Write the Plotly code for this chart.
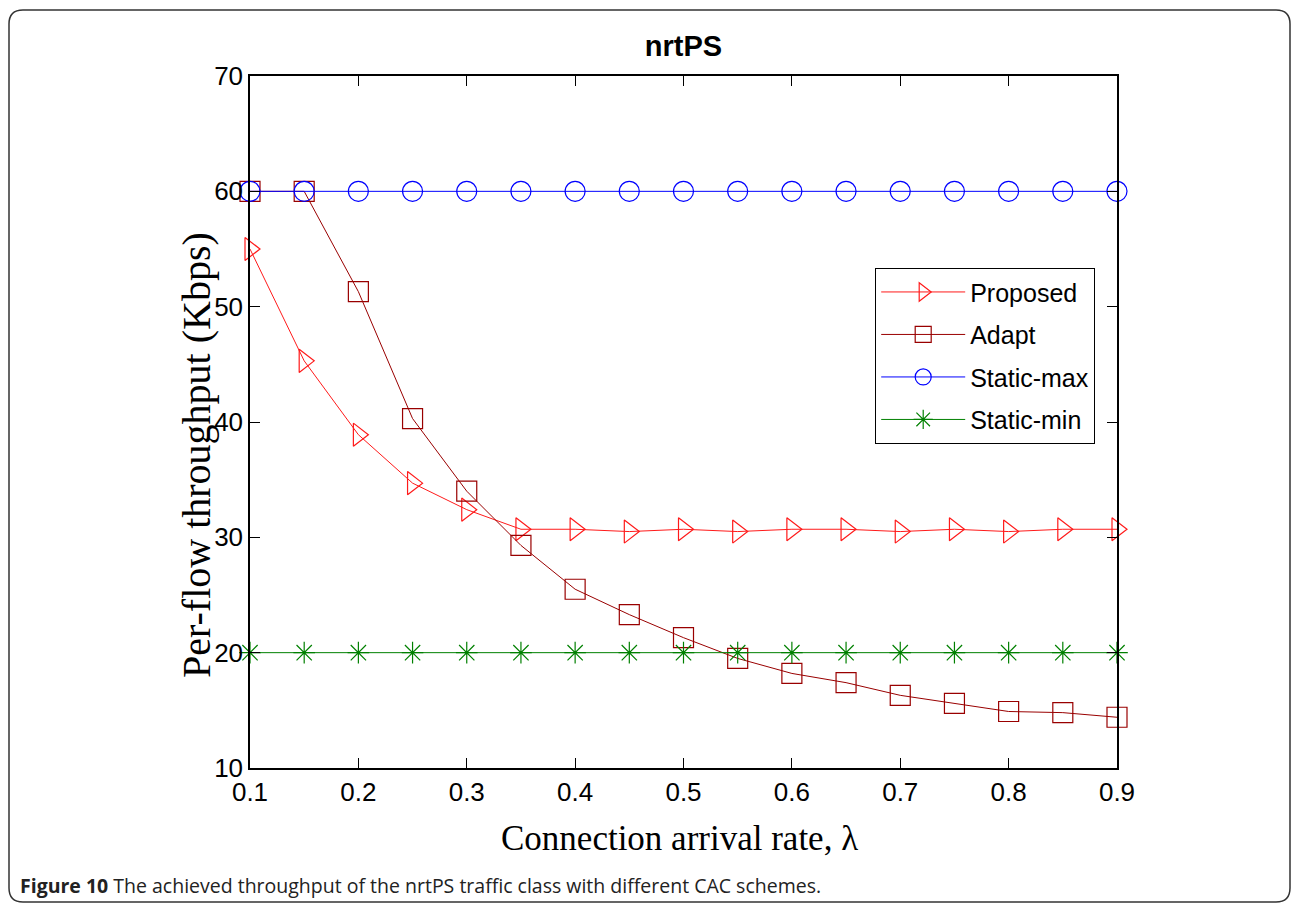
import plotly.graph_objects as go

# ---- data ----
arrival_rate = [0.1, 0.15, 0.2, 0.25, 0.3, 0.35, 0.4, 0.45, 0.5, 0.55, 0.6, 0.65, 0.7, 0.75, 0.8, 0.85, 0.9]
proposed = [55.0, 45.3, 38.9, 34.7, 32.4, 30.7, 30.7, 30.5, 30.7, 30.5, 30.7, 30.7, 30.5, 30.7, 30.5, 30.7, 30.7]
adapt = [60.0, 60.0, 51.3, 40.3, 34.0, 29.3, 25.5, 23.3, 21.3, 19.5, 18.2, 17.4, 16.3, 15.6, 14.9, 14.8, 14.4]
static_max = [60.0] * 17
static_min = [20.0] * 17

x_ticks = [0.1, 0.2, 0.3, 0.4, 0.5, 0.6, 0.7, 0.8, 0.9]
y_ticks = [10, 20, 30, 40, 50, 60, 70]

# ---- layout geometry (pixels) ----
W, H = 1292, 904
L, R, T, B = 250, 1117, 76, 768

def px(x):
    return (x - L) / (R - L)

def py(y):
    return (B - y) / (B - T)

fig = go.Figure()

series = [
    ("Proposed", proposed, "#ff1a1a", "triangle-right-open", 20),
    ("Adapt", adapt, "#990000", "square-open", 20),
    ("Static-max", static_max, "#0000ff", "circle-open", 20),
    ("Static-min", static_min, "#008000", "asterisk-open", 18),
]
for name, vals, col, sym, size in series:
    fig.add_trace(go.Scatter(
        x=arrival_rate, y=vals, name=name, mode="lines+markers",
        line=dict(color=col, width=1),
        marker=dict(symbol=sym, size=size, color=col, line=dict(color=col, width=1.2)),
        cliponaxis=False, legendgroup=name,
    ))

# outer rounded frame
fl, ft, fr, fb, rr = 9, 10, 1290, 902, 14
path = (
    f"M {px(fl)},{py(ft+rr)} Q {px(fl)},{py(ft)} {px(fl+rr)},{py(ft)} "
    f"L {px(fr-rr)},{py(ft)} Q {px(fr)},{py(ft)} {px(fr)},{py(ft+rr)} "
    f"L {px(fr)},{py(fb-rr)} Q {px(fr)},{py(fb)} {px(fr-rr)},{py(fb)} "
    f"L {px(fl+rr)},{py(fb)} Q {px(fl)},{py(fb)} {px(fl)},{py(fb-rr)} Z"
)
fig.add_shape(type="path", path=path, xref="paper", yref="paper",
              line=dict(color="#333333", width=1.5), layer="below")

axis_common = dict(
    showline=True, linecolor="black", linewidth=1.5, mirror="allticks",
    ticks="inside", ticklen=10, tickwidth=1, tickcolor="black",
    showgrid=False, zeroline=False,
    tickfont=dict(family="Liberation Sans, Arial", size=26, color="black"),
)

fig.update_layout(
    width=W, height=H,
    margin=dict(l=L, r=W - R, t=T, b=H - B),
    paper_bgcolor="white", plot_bgcolor="white",
    title=dict(text="<b>nrtPS</b>", x=0.5, xref="paper", xanchor="center",
               y=1 - 46 / H, yanchor="middle",
               font=dict(family="Liberation Sans, Arial", size=29, color="black")),
    xaxis=dict(range=[0.1, 0.9], tickvals=x_ticks, ticktext=[f"{v:.1f}" for v in x_ticks], **axis_common),
    yaxis=dict(range=[10, 70], tickvals=y_ticks, **axis_common),
    legend=dict(
        x=px(875), y=py(268), xanchor="left", yanchor="top",
        bordercolor="black", borderwidth=1.2, bgcolor="white",
        font=dict(family="Liberation Sans, Arial", size=25, color="black"),
        traceorder="grouped", tracegroupgap=7, itemwidth=84,
    ),
    showlegend=True,
)

fig.add_annotation(
    text="Connection arrival rate, λ", xref="paper", yref="paper",
    x=px(679), y=py(838), xanchor="center", yanchor="middle", showarrow=False,
    font=dict(family="Liberation Serif, Times New Roman", size=35, color="black"),
)
fig.add_annotation(
    text="Per-flow throughput (Kbps)", xref="paper", yref="paper",
    x=px(197), y=py(455), xanchor="center", yanchor="middle", showarrow=False,
    textangle=-90,
    font=dict(family="Liberation Serif, Times New Roman", size=40, color="black"),
)
fig.add_annotation(
    text="<b>Figure 10</b> The achieved throughput of the nrtPS traffic class with different CAC schemes.",
    xref="paper", yref="paper", x=px(18), y=py(885), xanchor="left", yanchor="middle",
    showarrow=False,
    font=dict(family="Open Sans, Noto Sans", size=19.5, color="#222222"),
)

fig.write_html("out.html", config={"displayModeBar": False},
               post_script="document.body.style.margin='0px';document.body.style.overflow='hidden';")
